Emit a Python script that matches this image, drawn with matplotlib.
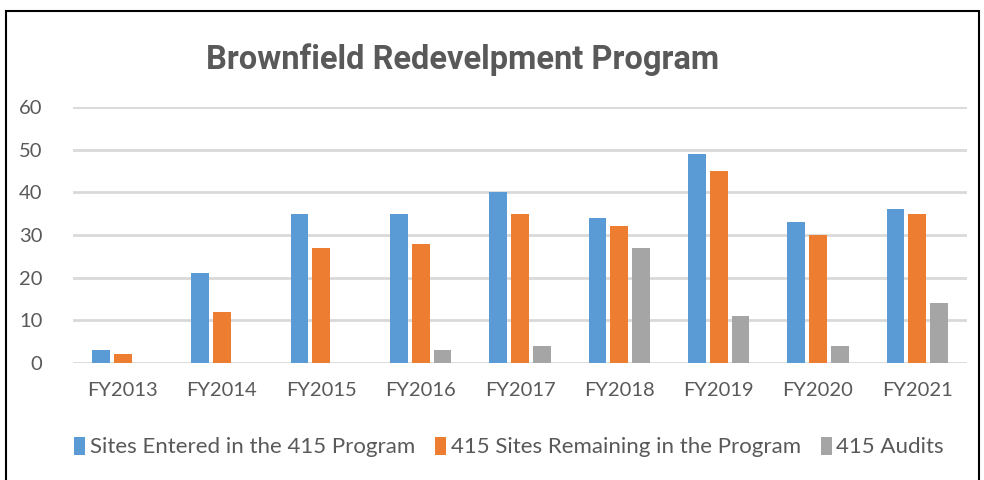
import matplotlib
matplotlib.use("Agg")
import matplotlib.pyplot as plt
import numpy as np
from matplotlib.patches import Rectangle

years = ["FY2013", "FY2014", "FY2015", "FY2016", "FY2017",
         "FY2018", "FY2019", "FY2020", "FY2021"]
sites_entered = [3, 21, 35, 35, 40, 34, 49, 33, 36]
sites_remaining = [2, 12, 27, 28, 35, 32, 45, 30, 35]
audits = [0, 0, 0, 3, 4, 27, 11, 4, 14]

series = [
    ("Sites Entered in the 415 Program", sites_entered, "#5B9BD5"),
    ("415 Sites Remaining in the Program", sites_remaining, "#ED7D31"),
    ("415 Audits", audits, "#A5A5A5"),
]

plt.rcParams["font.family"] = ["Lato", "DejaVu Sans"]

fig = plt.figure(figsize=(9.84, 4.8), dpi=100)
ax = fig.add_axes([73 / 984, 1 - 363 / 480, 894 / 984, 256 / 480])

x = np.arange(len(years))
bar_w = 0.18
step = 0.22
for i, (label, vals, color) in enumerate(series):
    ax.bar(x + (i - 1) * step, vals, width=bar_w, color=color, label=label, zorder=3)

ax.set_xlim(-0.5, len(years) - 0.5)
ax.set_ylim(0, 60)
ax.set_yticks(range(0, 61, 10))
ax.set_xticks(x)
ax.set_xticklabels(years)
ax.grid(axis="y", color="#D9D9D9", linewidth=2, zorder=0)
ax.set_axisbelow(True)
for s in ax.spines.values():
    s.set_visible(False)
ax.tick_params(axis="both", length=0, labelsize=14.5, labelcolor="#595959")
ax.tick_params(axis="y", pad=22)
ax.tick_params(axis="x", pad=14)

fig.text(463 / 984, 1 - 60 / 480, "Brownfield Redevelpment Program",
         ha="center", va="center", fontsize=23.5, fontweight="bold",
         color="#595959", family=["Roboto", "DejaVu Sans"])

ax.legend(loc="center", bbox_to_anchor=(0.5 - 11 / 894, (363 - 447) / 256),
          ncol=3, frameon=False, fontsize=16, labelcolor="#595959",
          handlelength=0.5, handleheight=0.9, handletextpad=0.2,
          columnspacing=0.9)

fig.patches.append(Rectangle((6 / 984, -0.1), 973 / 984, 1.1 - 11 / 480,
                             transform=fig.transFigure, fill=False,
                             edgecolor="black", linewidth=1.5))

fig.savefig("out.png", dpi=100)
